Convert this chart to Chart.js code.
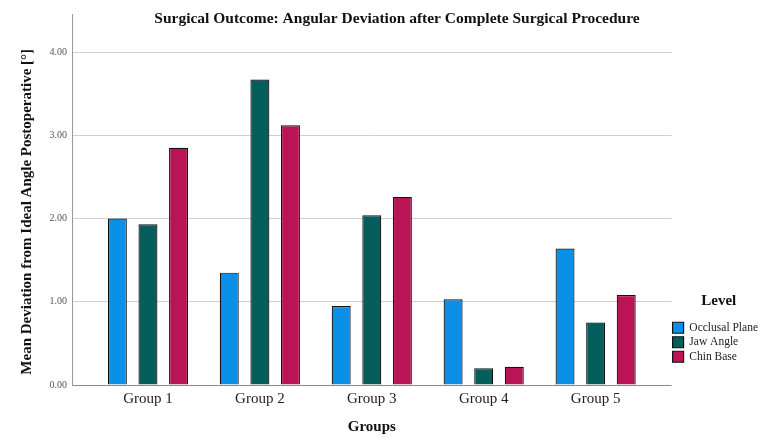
<!DOCTYPE html>
<html>
<head>
<meta charset="utf-8">
<script src="https://cdn.jsdelivr.net/npm/chart.js@4"></script>
<style>
  body { margin: 0; background: #fff; }
  #wrap { width: 763px; height: 440px; }
</style>
</head>
<body>
<div id="wrap"><canvas id="chart"></canvas></div>
<script>
// data
const groups = ["Group 1", "Group 2", "Group 3", "Group 4", "Group 5"];
const occlusalPlane = [2.00, 1.35, 0.95, 1.03, 1.64];
const jawAngle = [1.93, 3.67, 2.04, 0.20, 0.75];
const chinBase = [2.85, 3.12, 2.26, 0.22, 1.08];
const yTicks = [0, 1, 2, 3, 4];

Chart.defaults.font.family = "'Liberation Serif', serif";
Chart.defaults.color = "#222";

// SPSS style: categories are inset from the plot frame, legend sits low on the right
const layoutTweaks = {
  id: "layoutTweaks",
  afterLayout(chart) {
    const area = chart.chartArea;
    const x = chart.scales.x;
    x.left = area.left + 20;
    x.right = area.right - 20;
    x.width = x.right - x.left;
    x.configure();

    // y title sits a bit below the middle of the axis
    const y = chart.scales.y;
    y.drawTitle = function () {
      this.bottom += 24;
      Object.getPrototypeOf(this).drawTitle.call(this);
      this.bottom -= 24;
    };

    const lg = chart.legend;
    const h = lg.bottom - lg.top;
    lg.top = 294;
    lg.bottom = lg.top + Math.min(h, 90);
    lg.left -= 2;
    lg.right -= 2;

    const t = chart.titleBlock;
    t.left += 12;
    t.right += 12;
  },
};

function makeSet(label, data, color) {
  return {
    label,
    data,
    backgroundColor: color,
    borderColor: "#111",
    borderWidth: 1.2,
    categoryPercentage: 0.82,
    barPercentage: 0.62,
  };
}

new Chart(document.getElementById("chart"), {
  type: "bar",
  data: {
    labels: groups,
    datasets: [
      makeSet("Occlusal Plane", occlusalPlane, "#0A90E6"),
      makeSet("Jaw Angle", jawAngle, "#045E5B"),
      makeSet("Chin Base", chinBase, "#BA1457"),
    ],
  },
  options: {
    responsive: true,
    maintainAspectRatio: false,
    animation: false,
    layout: { padding: { top: 0, left: 0, right: -7, bottom: 0 } },
    plugins: {
      title: {
        display: true,
        text: "Surgical Outcome: Angular Deviation after Complete Surgical Procedure",
        font: { size: 15.5, weight: "bold" },
        color: "#111",
        padding: { top: 10, bottom: -14 },
      },
      legend: {
        position: "right",
        align: "start",
        title: {
          display: true,
          text: "Level",
          font: { size: 15, weight: "bold" },
          color: "#111",
          padding: { top: 0, bottom: 7 },
        },
        labels: {
          boxWidth: 11,
          boxHeight: 11,
          padding: 3,
          font: { size: 11.5 },
          color: "#222",
        },
      },
      tooltip: { enabled: false },
    },
    scales: {
      x: {
        grid: { display: false, drawTicks: false },
        border: { display: false },
        ticks: { font: { size: 15 }, color: "#222", padding: 5 },
        title: {
          display: true,
          text: "Groups",
          font: { size: 15, weight: "bold" },
          color: "#111",
          padding: { top: 4, bottom: 4 },
        },
        afterFit(scale) { scale.height = 55; },
      },
      y: {
        min: 0,
        max: 4.45,
        afterBuildTicks(scale) { scale.ticks = yTicks.map((v) => ({ value: v })); },
        ticks: {
          font: { size: 10 },
          color: "#555",
          padding: 5,
          callback: (v) => Number(v).toFixed(2),
        },
        grid: {
          drawTicks: false,
          color: (ctx) => (ctx.tick && ctx.tick.value === 0 ? "#8a8a8a" : "#d0d0d0"),
        },
        border: { display: true, color: "#999" },
        title: {
          display: true,
          text: "Mean Deviation from Ideal Angle Postoperative [°]",
          font: { size: 15, weight: "bold" },
          color: "#111",
          padding: { top: 18, bottom: 4 },
        },
        afterFit(scale) { scale.width = 72; },
      },
    },
  },
  plugins: [layoutTweaks],
});
</script>
</body>
</html>
